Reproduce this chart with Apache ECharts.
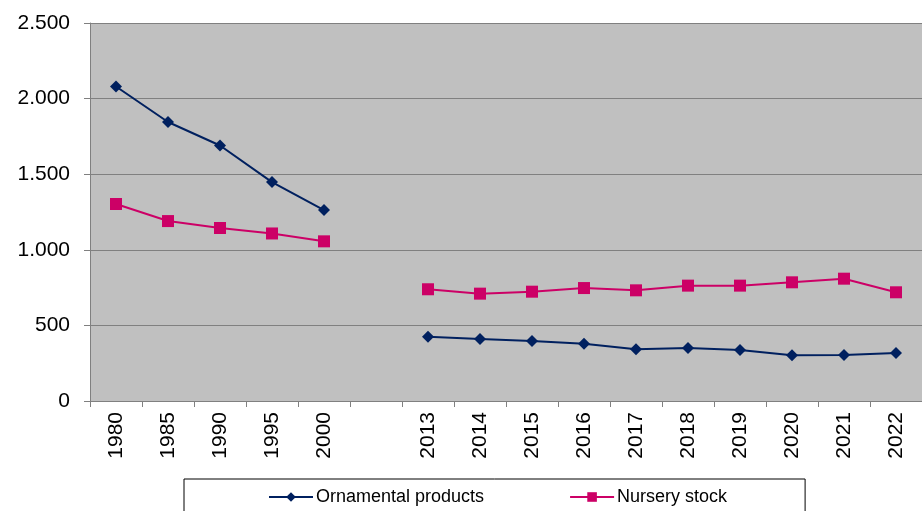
<!DOCTYPE html>
<html>
<head>
<meta charset="utf-8">
<script src="https://cdn.jsdelivr.net/npm/echarts@6/dist/echarts.min.js"></script>
<style>
  html, body { margin: 0; padding: 0; background: #fff; }
  #chart { width: 922px; height: 511px; }
</style>
</head>
<body>
<div id="chart"></div>
<script>
// years, with one empty slot for the gap between 2000 and 2013
var years = ['1980', '1985', '1990', '1995', '2000', '', '2013', '2014', '2015', '2016', '2017', '2018', '2019', '2020', '2021', '2022'];
var ornamental = [2080, 1845, 1690, 1448, 1263, null, 425, 410, 397, 379, 342, 351, 337, 302, 304, 317];
var nursery = [1303, 1190, 1144, 1108, 1056, null, 739, 710, 723, 747, 732, 763, 763, 785, 809, 719];

var chart = echarts.init(document.getElementById('chart'));

function fmt(v) {
  return String(v).replace(/\B(?=(\d{3})+(?!\d))/g, '.');
}

var option = {
  backgroundColor: '#ffffff',
  animation: false,
  textStyle: { fontFamily: 'Liberation Sans, Arial, sans-serif' },
  grid: {
    left: 90, right: -1, top: 23, bottom: 110,
    show: true, backgroundColor: '#c0c0c0', borderWidth: 0
  },
  legend: {
    left: 184, top: 479,
    padding: [9, 78, 20, 84],
    borderColor: '#000', borderWidth: 1,
    itemGap: 85, itemWidth: 44, itemHeight: 12,
    textStyle: { fontSize: 18, color: '#000', padding: [0, 0, 0, -2], fontFamily: 'Liberation Sans, Arial, sans-serif' },
    data: ['Ornamental products', 'Nursery stock']
  },
  xAxis: {
    type: 'category',
    data: years,
    boundaryGap: true,
    axisLine: { lineStyle: { color: '#808080', width: 1 } },
    axisTick: { show: true, length: 6, interval: 0, lineStyle: { color: '#808080' } },
    axisLabel: { rotate: 90, fontSize: 21, color: '#000', margin: 11, interval: 0 }
  },
  yAxis: {
    type: 'value',
    min: 0, max: 2500, interval: 500,
    axisLine: { show: true, lineStyle: { color: '#808080', width: 1 } },
    axisTick: { show: true, length: 6, lineStyle: { color: '#808080' } },
    splitLine: { lineStyle: { color: '#808080', width: 1 } },
    axisLabel: { fontSize: 21, color: '#000', margin: 20, formatter: fmt }
  },
  series: [
    {
      name: 'Ornamental products',
      type: 'line',
      data: ornamental,
      symbol: 'diamond',
      symbolSize: 12,
      connectNulls: false,
      itemStyle: { color: '#00205f' },
      lineStyle: { color: '#00205f', width: 2 }
    },
    {
      name: 'Nursery stock',
      type: 'line',
      data: nursery,
      symbol: 'rect',
      symbolSize: 12,
      connectNulls: false,
      itemStyle: { color: '#cc0066' },
      lineStyle: { color: '#cc0066', width: 2 }
    }
  ]
};

chart.setOption(option);
</script>
</body>
</html>
